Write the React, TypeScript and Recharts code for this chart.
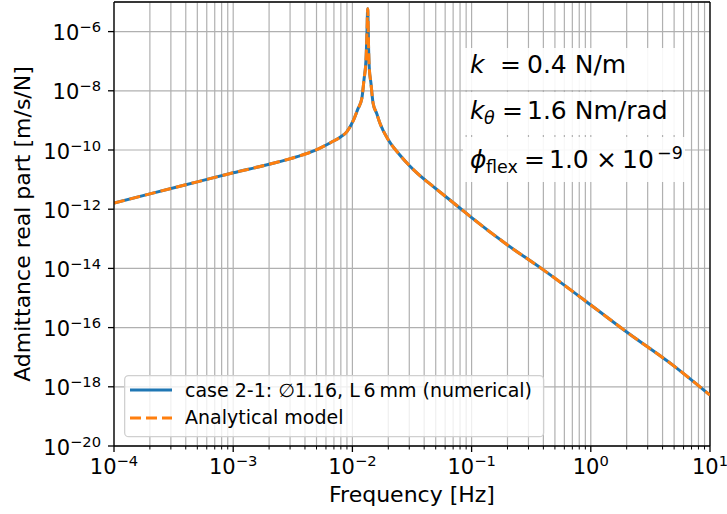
import { LineChart, Line, XAxis, YAxis, CartesianGrid, ReferenceLine, Legend } from 'recharts'

const FONT = 'DejaVu Sans'

// frequency [Hz]
const freq = [
  1e-4, 2e-4, 5e-4, 1e-3, 2e-3, 3.5e-3, 4.8e-3, 6.6e-3, 8e-3, 9e-3,
  1.03e-2, 1.11e-2, 1.2e-2, 1.25e-2, 1.3e-2, 1.325e-2, 1.343e-2, 1.37e-2, 1.385e-2, 1.43e-2,
  1.49e-2, 1.6e-2, 1.7e-2, 2e-2, 2.5e-2, 3e-2, 3.55e-2, 4.8e-2, 8e-2, 0.1,
  0.2, 0.4, 1, 2, 5, 10,
]

// admittance real part [m/s/N], numerical case 2-1
const numerical = [
  1.6e-12, 3.3e-12, 8.4e-12, 1.7e-11, 3.3e-11, 6.1e-11, 9.5e-11, 1.8e-10, 2.8e-10, 4.2e-10,
  1.1e-9, 2.4e-9, 5.5e-9, 2.3e-8, 1.1e-7, 9e-7, 5.9e-6, 2e-7, 6e-8, 1.85e-8,
  3.9e-9, 1.7e-9, 8.2e-10, 2.2e-10, 6.8e-11, 3e-11, 1.55e-11, 5.7e-12, 1.08e-12, 5.2e-13,
  6.2e-14, 8.9e-15, 5.8e-16, 7.1e-17, 5e-18, 5.2e-19,
]

// analytical model (lies on top of the numerical curve)
const analytical = [
  1.6e-12, 3.3e-12, 8.4e-12, 1.7e-11, 3.3e-11, 6.1e-11, 9.5e-11, 1.8e-10, 2.8e-10, 4.2e-10,
  1.1e-9, 2.4e-9, 5.5e-9, 2.3e-8, 1.1e-7, 9e-7, 5.9e-6, 2e-7, 6e-8, 1.85e-8,
  3.9e-9, 1.7e-9, 8.2e-10, 2.2e-10, 6.8e-11, 3e-11, 1.55e-11, 5.7e-12, 1.08e-12, 5.2e-13,
  6.2e-14, 8.9e-15, 5.8e-16, 7.1e-17, 5e-18, 5.2e-19,
]

const xMajor = [1e-4, 1e-3, 1e-2, 1e-1, 1, 10]
const xMinorSubs = [2, 3, 4, 5, 6, 7, 8, 9]
const yTicks = [1e-20, 1e-18, 1e-16, 1e-14, 1e-12, 1e-10, 1e-8, 1e-6]

const xTicks = [
  ...xMajor,
  ...xMajor.slice(0, -1).flatMap((d) => xMinorSubs.map((s) => s * d)),
].sort((a, b) => a - b)

const data = freq.map((f, i) => ({ f, num: numerical[i], ana: analytical[i] }))

const BLUE = '#1f77b4'
const ORANGE = '#ff7f0e'

function expLabel(v: number) {
  const e = Math.round(Math.log10(v))
  return e < 0 ? '\u2212' + Math.abs(e) : String(e)
}

function isMajor(v: number) {
  const lg = Math.log10(v)
  return Math.abs(lg - Math.round(lg)) < 1e-6
}

function XTick({ x, y, payload }: any) {
  const v = payload.value
  const major = isMajor(v)
  return (
    <g>
      <line x1={x} x2={x} y1={y} y2={y + (major ? 6 : 3.5)} stroke="#000" strokeWidth={major ? 1.3 : 1} />
      {major && (
        <text x={x} y={y + 28} textAnchor="middle" fontSize={21} fontFamily={FONT} fill="#000">
          10<tspan dy={-8} fontSize={14.7}>{expLabel(v)}</tspan>
        </text>
      )}
    </g>
  )
}

function YTick({ x, y, payload }: any) {
  return (
    <g>
      <line x1={x - 6} x2={x} y1={y} y2={y} stroke="#000" strokeWidth={1.3} />
      <text x={x - 13} y={y + 8.5} textAnchor="end" fontSize={21} fontFamily={FONT} fill="#000">
        10<tspan dy={-8} fontSize={14.7}>{expLabel(payload.value)}</tspan>
      </text>
    </g>
  )
}

function LegendBox() {
  return (
    <svg width={421} height={63} style={{ display: 'block' }}>
      <rect x={0.65} y={0.65} width={419} height={61} rx={4} fill="#fff" fillOpacity={0.8} stroke="#d0d0d0" strokeWidth={1.3} />
      <line x1={6} x2={48} y1={15} y2={15} stroke={BLUE} strokeWidth={3} />
      <line x1={6} x2={48} y1={43} y2={43} stroke={ORANGE} strokeWidth={3} strokeDasharray="11 5" />
      <text x={61} y={22} fontSize={19} fontFamily={FONT} fill="#000">
        case 2-1: ∅1.16, L{'\u2009'}6{'\u2009'}mm (numerical)
      </text>
      <text x={61} y={49} fontSize={19} fontFamily={FONT} fill="#000">
        Analytical model
      </text>
    </svg>
  )
}

function Notes() {
  const t = { fontFamily: FONT, fill: '#000' }
  return (
    <svg width={727} height={514} style={{ position: 'absolute', left: 0, top: 0, pointerEvents: 'none' }}>
      <rect x={463} y={48} width={217} height={42} fill="#fff" fillOpacity={0.9} />
      <rect x={463} y={92} width={220} height={43} fill="#fff" fillOpacity={0.9} />
      <rect x={463} y={137} width={222} height={45} fill="#fff" fillOpacity={0.9} />

      <text x={470} y={73} fontSize={25} fontStyle="italic" {...t}>k</text>
      <text x={500} y={73} fontSize={25} {...t}>=</text>
      <text x={527} y={73} fontSize={25} {...t}>0.4 N/m</text>

      <text x={470} y={119} fontSize={25} fontStyle="italic" {...t}>k</text>
      <text x={484} y={124} fontSize={17.5} fontStyle="italic" {...t}>θ</text>
      <text x={502} y={119} fontSize={25} {...t}>=</text>
      <text x={527} y={119} fontSize={25} {...t}>1.6 Nm/rad</text>

      <text x={470} y={168} fontSize={25} fontStyle="italic" {...t}>ϕ</text>
      <text x={486} y={173} fontSize={17.5} {...t}>flex</text>
      <text x={524} y={168} fontSize={25} {...t}>=</text>
      <text x={549} y={168} fontSize={25} {...t}>1.0</text>
      <text x={596} y={168} fontSize={25} {...t}>×</text>
      <text x={622} y={168} fontSize={25} {...t}>10</text>
      <text x={657} y={159} fontSize={17.5} {...t}>{'\u2212'}9</text>
    </svg>
  )
}

export default function App() {
  return (
    <div style={{ position: 'absolute', left: 0, top: 0, width: 727, height: 514, background: '#fff' }}>
      <LineChart width={727} height={514} data={data} margin={{ top: 2, right: 17, left: 0, bottom: 0 }}>
        <CartesianGrid stroke="#b0b0b0" strokeWidth={1.2} />
        <XAxis
          dataKey="f"
          type="number"
          scale="log"
          domain={[1e-4, 10]}
          allowDataOverflow
          ticks={xTicks}
          interval={0}
          height={68}
          tickSize={0}
          tickMargin={0}
          tickLine={false}
          tick={<XTick />}
          axisLine={{ stroke: '#000', strokeWidth: 1.3 }}
          label={{
            content: () => (
              <text x={412} y={502} textAnchor="middle" fontSize={22} fontFamily={FONT} fill="#000">
                Frequency [Hz]
              </text>
            ),
          }}
        />
        <YAxis
          type="number"
          scale="log"
          domain={[1e-20, 1e-5]}
          allowDataOverflow
          ticks={yTicks}
          interval={0}
          width={114}
          tickSize={0}
          tickMargin={0}
          tickLine={false}
          tick={<YTick />}
          axisLine={{ stroke: '#000', strokeWidth: 1.3 }}
          label={{
            content: () => (
              <text x={30} y={224} transform="rotate(-90 30 224)" textAnchor="middle" fontSize={22} fontFamily={FONT} fill="#000">
                Admittance real part [m/s/N]
              </text>
            ),
          }}
        />
        <ReferenceLine y={1e-5} stroke="#000" strokeWidth={1.3} />
        <ReferenceLine x={10} stroke="#000" strokeWidth={1.3} />
        <Line
          dataKey="num"
          name="case 2-1"
          type="monotone"
          stroke={BLUE}
          strokeWidth={3}
          dot={false}
          isAnimationActive={false}
        />
        <Line
          dataKey="ana"
          name="Analytical model"
          type="monotone"
          stroke={ORANGE}
          strokeWidth={3}
          strokeDasharray="11 5"
          dot={false}
          isAnimationActive={false}
        />
        <Legend
          layout="vertical"
          align="center"
          verticalAlign="middle"
          wrapperStyle={{ left: 124, top: 375, width: 421, height: 63 }}
          content={() => <LegendBox />}
        />
      </LineChart>
      <Notes />
    </div>
  )
}
